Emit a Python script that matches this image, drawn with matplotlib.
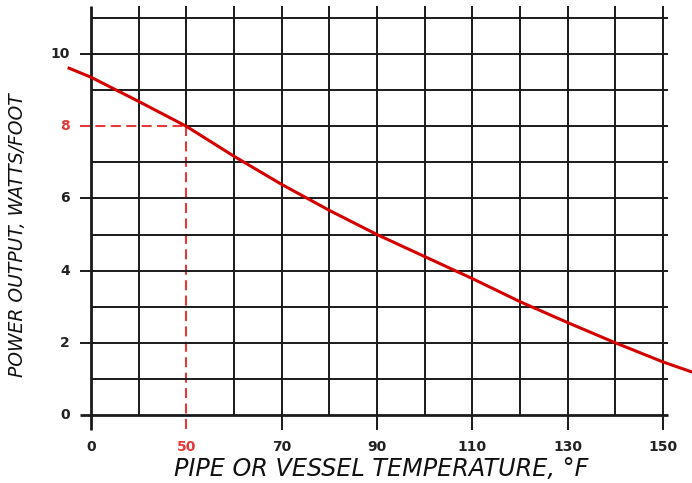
import matplotlib
matplotlib.use("Agg")
import matplotlib.pyplot as plt

# Data
temp_f = [25.4, 30, 40, 50, 60, 70, 80, 90, 100, 110, 120, 130, 140, 150, 156.1]
watts_per_ft = [9.61, 9.36, 8.69, 8.0, 7.17, 6.39, 5.67, 5.0, 4.39, 3.78, 3.14, 2.56, 2.0, 1.47, 1.19]

x_tick_pos = [30, 50, 70, 90, 110, 130, 150]
x_tick_labels = ["0", "50", "70", "90", "110", "130", "150"]
y_tick_pos = [0, 2, 4, 6, 8, 10]
y_tick_labels = ["0", "2", "4", "6", "8", "10"]
highlight_x, highlight_y = 50, 8

RED = "#d40000"
DASH_RED = "#e23a3a"
GRID = "#1a1a1a"
TICKFONT = "DejaVu Sans"
LABELFONT = "DejaVu Sans"

fig = plt.figure(figsize=(6.92, 4.83), dpi=100)
ax = fig.add_axes([0, 0, 1, 1])
ax.set_xlim(10.91, 156.07)
ax.set_ylim(-1.884, 11.50)
ax.axis("off")

xmin, xmax = 30, 151.0
ytop = 11.33
# vertical grid lines
for xv in range(30, 151, 10):
    ybot = -0.42 if xv in x_tick_pos else 0
    if xv == highlight_x:
        ybot = highlight_y
    lw = 2.0 if xv == 30 else 1.4
    ax.plot([xv, xv], [ybot, ytop], color=GRID, lw=lw, solid_capstyle="butt", zorder=1)
# horizontal grid lines
for yv in range(0, 12):
    x0 = 27.7 if yv in y_tick_pos else xmin
    if yv == highlight_y:
        x0 = highlight_x
    lw = 2.0 if yv == 0 else 1.4
    ax.plot([x0, xmax], [yv, yv], color=GRID, lw=lw, solid_capstyle="butt", zorder=1)

# highlight dashed lines
ax.plot([27.7, highlight_x], [highlight_y, highlight_y], color=DASH_RED, lw=1.5,
        dashes=(4.8, 2.6), zorder=2)
ax.plot([highlight_x, highlight_x], [highlight_y, -0.42], color=DASH_RED, lw=1.5,
        dashes=(4.8, 2.6), zorder=0.5)

# curve
ax.plot(temp_f, watts_per_ft, color=RED, lw=2.2, zorder=3, clip_on=False)

# tick labels
for xv, lab in zip(x_tick_pos, x_tick_labels):
    c = DASH_RED if xv == highlight_x else "#222222"
    ax.text(xv, -0.88, lab, ha="center", va="center", fontsize=10,
            fontweight="bold", family=TICKFONT, color=c)
for yv, lab in zip(y_tick_pos, y_tick_labels):
    c = DASH_RED if yv == highlight_y else "#222222"
    ax.text(25.6, yv, lab, ha="right", va="center", fontsize=10,
            fontweight="bold", family=TICKFONT, color=c)

fig.text(381 / 692, 1 - 469 / 483, "PIPE OR VESSEL TEMPERATURE, \u00b0F", ha="center",
         va="center", fontsize=17.2, style="italic", family=LABELFONT, color="#111111")
fig.text(18 / 692, 1 - 235 / 483, "POWER OUTPUT, WATTS/FOOT", ha="center",
         va="center", rotation=90, fontsize=13.5, style="italic", family=LABELFONT,
         color="#111111")

fig.savefig("out.png", dpi=100)
